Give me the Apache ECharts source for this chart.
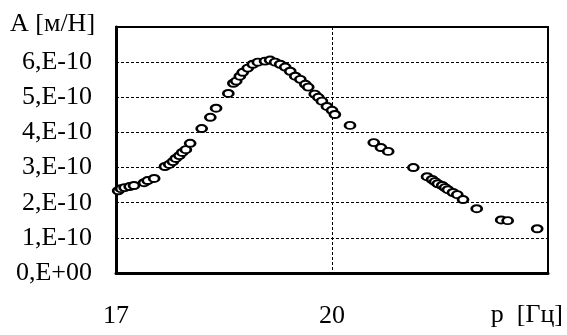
<!DOCTYPE html>
<html>
<head>
<meta charset="utf-8">
<script src="https://cdn.jsdelivr.net/npm/echarts@6/dist/echarts.min.js"></script>
<style>html,body{margin:0;padding:0;background:#fff}#c{width:567px;height:335px}</style>
</head>
<body>
<div id="c"></div>
<script>
// frequency p [Hz]
const freq = [17.03,17.07,17.12,17.19,17.25,17.39,17.44,17.53,17.68,17.74,17.79,17.83,17.88,17.92,17.97,18.03,
  18.19,18.31,18.39,18.56,18.63,18.67,18.72,18.76,18.83,18.90,18.97,19.07,19.14,19.21,19.28,19.35,19.42,19.49,
  19.56,19.63,19.67,19.76,19.81,19.86,19.93,20.00,20.04,20.25,20.58,20.68,20.78,21.13,21.32,21.39,21.43,21.47,
  21.53,21.57,21.61,21.68,21.74,21.82,22.01,22.35,22.44,22.85];
// amplitude A [m/N], in units of 1e-10
const ampE10 = [2.34,2.40,2.43,2.46,2.49,2.57,2.63,2.69,3.03,3.09,3.17,3.26,3.34,3.43,3.51,3.69,
  4.11,4.43,4.69,5.11,5.40,5.46,5.60,5.71,5.83,5.94,6.00,6.03,6.06,6.00,5.94,5.86,5.74,5.60,
  5.51,5.37,5.29,5.09,5.00,4.89,4.74,4.63,4.51,4.20,3.71,3.57,3.46,3.00,2.74,2.66,2.60,2.54,
  2.49,2.43,2.37,2.29,2.23,2.09,1.83,1.51,1.49,1.26];
const xTicks = [17, 20];
const yTickLabels = ['0,E+00','1,E-10','2,E-10','3,E-10','4,E-10','5,E-10','6,E-10'];
const yTitle = 'A [м/Н]';
const xTitle = 'p  [Гц]';

const FONT = '"Liberation Serif", "Times New Roman", serif';
const data = freq.map((f, i) => [f, ampE10[i]]);
const chart = echarts.init(document.getElementById('c'));
chart.setOption({
  animation: false,
  backgroundColor: '#fff',
  grid: {left: 116, right: 19, top: 27, bottom: 62, show: true, borderColor: '#000', borderWidth: 2, backgroundColor: 'transparent'},
  xAxis: {
    type: 'value', min: 17, max: 23, interval: 3,
    axisLine: {show: true, lineStyle: {color: '#000', width: 3}},
    axisTick: {show: false},
    axisLabel: {margin: 30, fontFamily: FONT, fontSize: 26, color: '#000',
      formatter: v => xTicks.includes(v) ? String(v) : ''},
    splitLine: {show: true, lineStyle: {color: '#000', width: 1, type: [3, 2]}}
  },
  yAxis: {
    type: 'value', min: 0, max: 7, interval: 1,
    axisLine: {show: true, lineStyle: {color: '#000', width: 3}},
    axisTick: {show: false},
    axisLabel: {margin: 24, fontFamily: FONT, fontSize: 26, color: '#000',
      formatter: v => yTickLabels[Math.round(v)] || ''},
    splitLine: {show: true, lineStyle: {color: '#000', width: 1, type: [3, 2]}}
  },
  graphic: [
    {type: 'text', left: 10, top: 11, style: {text: yTitle, font: '26px ' + FONT, fill: '#000'}},
    {type: 'text', right: 4, top: 302, style: {text: xTitle, font: '26px ' + FONT, fill: '#000'}}
  ],
  series: [{
    type: 'scatter', data: data,
    symbol: 'circle', symbolSize: [10, 7],
    itemStyle: {color: '#fff', borderColor: '#000', borderWidth: 2.3, opacity: 1}
  }]
});
</script>
</body>
</html>
